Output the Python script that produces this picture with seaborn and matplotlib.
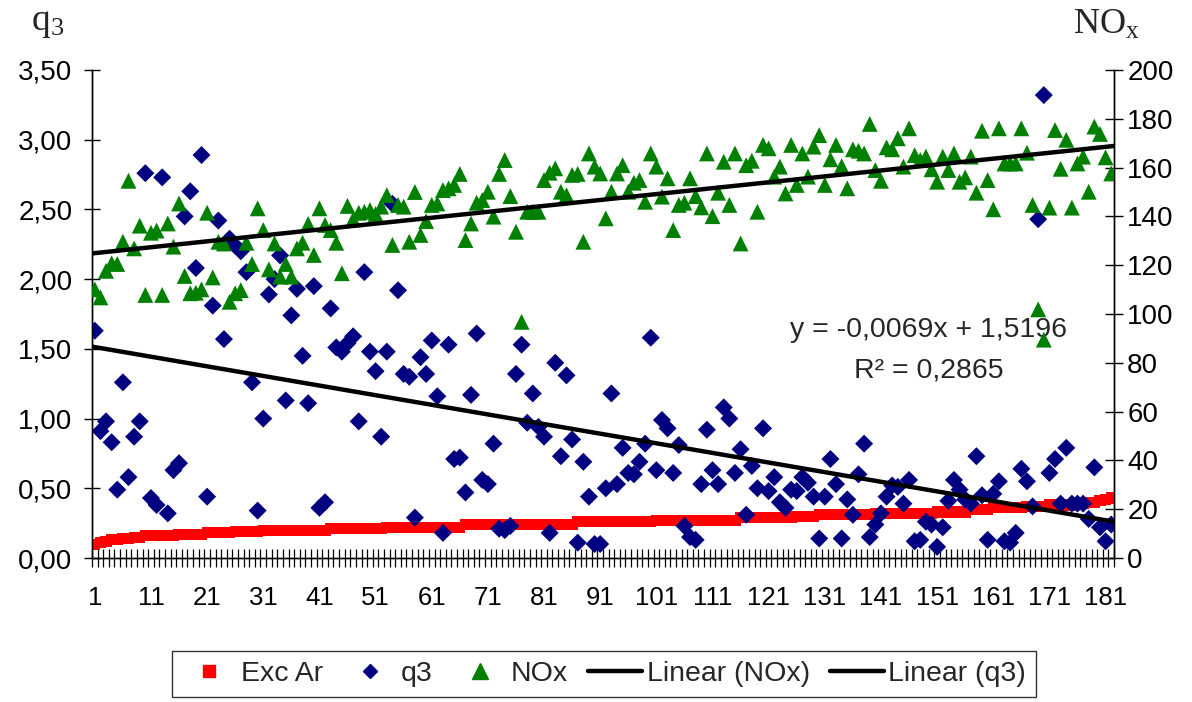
import numpy as np
import matplotlib
matplotlib.use("Agg")
import matplotlib.pyplot as plt
import seaborn as sns
from matplotlib.ticker import FixedLocator, FuncFormatter
from matplotlib.lines import Line2D

sns.set_theme(style="white")
plt.rcParams['font.family'] = ['Liberation Sans', 'DejaVu Sans']
plt.rcParams['mathtext.fontset'] = 'custom'
plt.rcParams['mathtext.rm'] = 'Liberation Serif'
plt.rcParams['mathtext.it'] = 'Liberation Serif:italic'
plt.rcParams['mathtext.bf'] = 'Liberation Serif:bold'

# ---------------- data ----------------
exc_ar = [0.10, 0.11, 0.12, 0.13, 0.13, 0.14, 0.14, 0.15, 0.15, 0.16,
          0.16, 0.16, 0.16, 0.16, 0.16, 0.17, 0.17, 0.17, 0.17, 0.17,
          0.18, 0.18, 0.18, 0.18, 0.18, 0.19, 0.19, 0.19, 0.19, 0.19,
          0.20, 0.20, 0.20, 0.20, 0.20, 0.20, 0.20, 0.20, 0.20, 0.20,
          0.20, 0.20, 0.21, 0.21, 0.21, 0.21, 0.21, 0.21, 0.21, 0.21,
          0.21, 0.21, 0.22, 0.22, 0.22, 0.22, 0.22, 0.22, 0.22, 0.22,
          0.22, 0.22, 0.22, 0.22, 0.22, 0.22, 0.24, 0.24, 0.24, 0.24,
          0.24, 0.24, 0.24, 0.24, 0.24, 0.24, 0.24, 0.24, 0.24, 0.24,
          0.24, 0.24, 0.24, 0.24, 0.24, 0.24, 0.26, 0.26, 0.26, 0.26,
          0.26, 0.26, 0.26, 0.26, 0.26, 0.26, 0.26, 0.26, 0.26, 0.26,
          0.27, 0.27, 0.27, 0.27, 0.27, 0.27, 0.27, 0.27, 0.27, 0.27,
          0.27, 0.27, 0.27, 0.27, 0.27, 0.29, 0.29, 0.29, 0.29, 0.29,
          0.29, 0.29, 0.29, 0.29, 0.29, 0.30, 0.30, 0.30, 0.30, 0.31,
          0.31, 0.31, 0.31, 0.31, 0.31, 0.31, 0.31, 0.31, 0.31, 0.32,
          0.32, 0.32, 0.32, 0.32, 0.32, 0.32, 0.32, 0.32, 0.32, 0.32,
          0.33, 0.33, 0.33, 0.33, 0.33, 0.33, 0.35, 0.35, 0.35, 0.35,
          0.36, 0.36, 0.36, 0.36, 0.36, 0.36, 0.37, 0.37, 0.37, 0.37,
          0.38, 0.38, 0.38, 0.38, 0.38, 0.39, 0.39, 0.40, 0.40, 0.41,
          0.42, 0.43]

q3 = [1.63, 0.91, 0.98, 0.83, 0.49, 1.26, 0.58, 0.87, 0.98, 2.76,
      0.43, 0.38, 2.73, 0.32, 0.63, 0.68, 2.45, 2.63, 2.08, 2.89,
      0.44, 1.81, 2.42, 1.57, 2.29, 2.24, 2.20, 2.05, 1.26, 0.34,
      1.00, 1.89, 2.00, 2.17, 1.13, 1.74, 1.93, 1.45, 1.11, 1.95,
      0.36, 0.40, 1.79, 1.51, 1.48, 1.54, 1.59, 0.98, 2.05, 1.48,
      1.34, 0.87, 1.48, 2.54, 1.92, 1.32, 1.30, 0.29, 1.44, 1.32,
      1.56, 1.16, 0.18, 1.53, 0.71, 0.72, 0.47, 1.17, 1.61, 0.56,
      0.53, 0.82, 0.21, 0.20, 0.23, 1.32, 1.53, 0.97, 1.18, 0.94,
      0.87, 0.18, 1.40, 0.73, 1.31, 0.85, 0.11, 0.69, 0.44, 0.10,
      0.10, 0.50, 1.18, 0.53, 0.79, 0.61, 0.60, 0.69, 0.82, 1.58,
      0.63, 0.99, 0.93, 0.61, 0.81, 0.23, 0.15, 0.13, 0.53, 0.92,
      0.63, 0.53, 1.08, 1.00, 0.61, 0.78, 0.31, 0.66, 0.50, 0.93,
      0.48, 0.58, 0.40, 0.36, 0.49, 0.48, 0.58, 0.54, 0.44, 0.14,
      0.44, 0.71, 0.53, 0.14, 0.42, 0.31, 0.60, 0.82, 0.15, 0.24,
      0.32, 0.44, 0.52, 0.51, 0.39, 0.56, 0.12, 0.13, 0.26, 0.24,
      0.08, 0.22, 0.41, 0.56, 0.49, 0.42, 0.39, 0.73, 0.45, 0.13,
      0.46, 0.55, 0.12, 0.11, 0.18, 0.64, 0.55, 0.37, 2.43, 3.32,
      0.61, 0.71, 0.39, 0.79, 0.39, 0.39, 0.39, 0.28, 0.65, 0.22,
      0.12, 0.24]

nox = [110.1, 106.8, 117.7, 120.8, 120.5, 129.6, 154.6, 126.9, 136.2, 107.8,
       133.3, 134.2, 107.8, 137.1, 127.6, 145.3, 115.6, 108.5, 108.7, 110.1,
       141.5, 115.0, 129.6, 128.9, 105.0, 108.5, 109.8, 129.2, 120.5, 143.3,
       134.4, 118.3, 128.9, 115.3, 120.5, 115.3, 126.9, 129.2, 136.9, 124.2,
       143.3, 136.5, 134.4, 129.2, 116.7, 144.3, 138.8, 141.5, 141.9, 142.6,
       141.0, 144.0, 148.7, 128.3, 144.7, 144.0, 129.6, 150.0, 132.4, 138.1,
       144.7, 145.3, 150.8, 151.5, 152.9, 157.4, 130.3, 137.1, 145.6, 146.7,
       150.1, 139.9, 157.4, 163.1, 148.3, 133.7, 96.8, 141.9, 141.9, 141.9,
       154.9, 157.9, 159.7, 150.1, 148.7, 157.0, 157.4, 129.6, 165.8, 160.4,
       157.6, 139.2, 150.1, 157.6, 161.0, 150.1, 153.8, 154.9, 146.0, 165.8,
       160.4, 148.1, 155.6, 134.4, 144.7, 145.6, 155.6, 148.3, 143.7, 165.8,
       140.1, 149.7, 162.4, 144.7, 165.8, 128.9, 161.0, 162.8, 141.9, 169.3,
       167.9, 156.3, 160.4, 149.4, 169.3, 152.9, 165.8, 156.3, 168.6, 173.3,
       152.9, 163.4, 169.3, 160.6, 151.5, 167.5, 166.9, 165.8, 177.9, 159.0,
       154.6, 168.3, 167.5, 172.0, 160.4, 176.1, 165.1, 163.1, 164.5, 159.3,
       154.2, 164.5, 159.0, 165.8, 154.2, 156.0, 164.5, 149.7, 175.1, 154.9,
       142.9, 176.1, 161.7, 161.7, 161.7, 176.1, 166.1, 144.7, 101.9, 89.5,
       143.6, 175.4, 159.5, 171.4, 143.6, 161.7, 164.5, 150.1, 176.8, 173.8,
       164.2, 157.6]

# trend lines (q3 from the printed equation, NOx)
q3_slope, q3_intercept = -0.0069, 1.5196
nox_slope, nox_intercept = 0.242, 124.7

x_tick_labels = [str(v) for v in range(1, 182, 10)]
left_ticks = [0.0, 0.5, 1.0, 1.5, 2.0, 2.5, 3.0, 3.5]
right_ticks = [0, 20, 40, 60, 80, 100, 120, 140, 160, 180, 200]

# ---------------- figure ----------------
W, H = 1192, 702
fig = plt.figure(figsize=(W / 100, H / 100), dpi=100)
L, R, T, B = 92, 1114, 70, 558
ax = fig.add_axes([L / W, 1 - B / H, (R - L) / W, (B - T) / H])
ax2 = ax.twinx()

idx = np.arange(1, len(q3) + 1)
RED, NAVY, GREEN = '#FF0000', '#000080', '#008000'

sns.scatterplot(x=idx, y=exc_ar, ax=ax, marker='s', s=64, color=RED,
                edgecolor='none', linewidth=0, legend=False, zorder=3)
sns.scatterplot(x=idx, y=q3, ax=ax, marker='D', s=84, color=NAVY,
                edgecolor='none', linewidth=0, legend=False, zorder=4)
xl = np.array([idx[0] - 0.5, idx[-1] + 0.5])
sns.lineplot(x=xl, y=q3_intercept + q3_slope * xl, ax=ax, color='black',
             linewidth=3.2, legend=False, zorder=5)
sns.scatterplot(x=idx, y=nox, ax=ax2, marker='^', s=130, color=GREEN,
                edgecolor='none', linewidth=0, legend=False, zorder=3)
sns.lineplot(x=xl, y=nox_intercept + nox_slope * xl, ax=ax2, color='black',
             linewidth=3.2, legend=False, zorder=5)

# ---------------- axes ----------------
for a in (ax, ax2):
    a.set_xlim(idx[0] - 0.5, idx[-1] + 0.5)
    a.set_xlabel('')
    a.set_ylabel('')
    a.grid(False)
    a.set_facecolor('none')
    a.spines['top'].set_visible(False)
    for s in ('left', 'right', 'bottom'):
        a.spines[s].set_color('black')
        a.spines[s].set_linewidth(1.0)

ax.set_ylim(0, 3.5)
ax2.set_ylim(0, 200)
ax.yaxis.set_major_locator(FixedLocator(left_ticks))
ax.yaxis.set_major_formatter(FuncFormatter(lambda v, p: f"{v:.2f}".replace('.', ',')))
ax2.yaxis.set_major_locator(FixedLocator(right_ticks))
ax2.yaxis.set_major_formatter(FuncFormatter(lambda v, p: f"{int(round(v))}"))

ax.xaxis.set_major_locator(FixedLocator([int(t) for t in x_tick_labels]))
ax.set_xticklabels(x_tick_labels)
ax.xaxis.set_minor_locator(FixedLocator(np.arange(idx[0] - 0.5, idx[-1] + 1.0, 1.0)))
ax.tick_params(axis='x', which='major', length=0, pad=20, labelsize=18.5,
               colors='black', bottom=True)
ax.tick_params(axis='x', which='minor', direction='inout', length=13, width=0.9,
               color='black', bottom=True)
ax.tick_params(axis='y', which='major', direction='inout', length=12, width=1,
               pad=8, labelsize=20, colors='black', left=True)
ax2.tick_params(axis='y', which='major', direction='inout', length=13, width=1,
                pad=3, labelsize=20, colors='black', right=True)
ax2.tick_params(axis='x', which='both', bottom=False, labelbottom=False)

# axis titles
fig.text(31 / W, 1 - 30 / H, r'$\mathrm{q}_{3}$', fontsize=27, ha='left', va='baseline')
fig.text(1073 / W, 1 - 34 / H, r'$\mathrm{NO}_{\mathrm{x}}$', fontsize=26, ha='left', va='baseline')

# trendline label
ax.text(149.5, 1.635, 'y = -0,0069x + 1,5196', fontsize=20.5, ha='center', va='center', zorder=6)
ax.text(149.5, 1.345, 'R² = 0,2865', fontsize=20.5, ha='center', va='center', zorder=6)

# legend
handles = [
    Line2D([], [], marker='s', color=RED, linestyle='', markersize=8),
    Line2D([], [], marker='D', color=NAVY, linestyle='', markersize=7),
    Line2D([], [], marker='^', color=GREEN, linestyle='', markersize=11),
    Line2D([], [], color='black', linewidth=3.2),
    Line2D([], [], color='black', linewidth=3.2),
]
labels = ['Exc Ar', 'q3', 'NOx', 'Linear (NOx)', 'Linear (q3)']
leg = fig.legend(handles, labels, loc='upper center', bbox_to_anchor=(604 / W, 1 - 651 / H),
                 ncol=5, fontsize=20.5, frameon=True, fancybox=False, shadow=False,
                 handlelength=1.9, handletextpad=0.15, columnspacing=0.7,
                 borderpad=0.35, borderaxespad=0)
leg.get_frame().set_edgecolor('black')
leg.get_frame().set_linewidth(1.0)

fig.savefig('out.png', dpi=100)
